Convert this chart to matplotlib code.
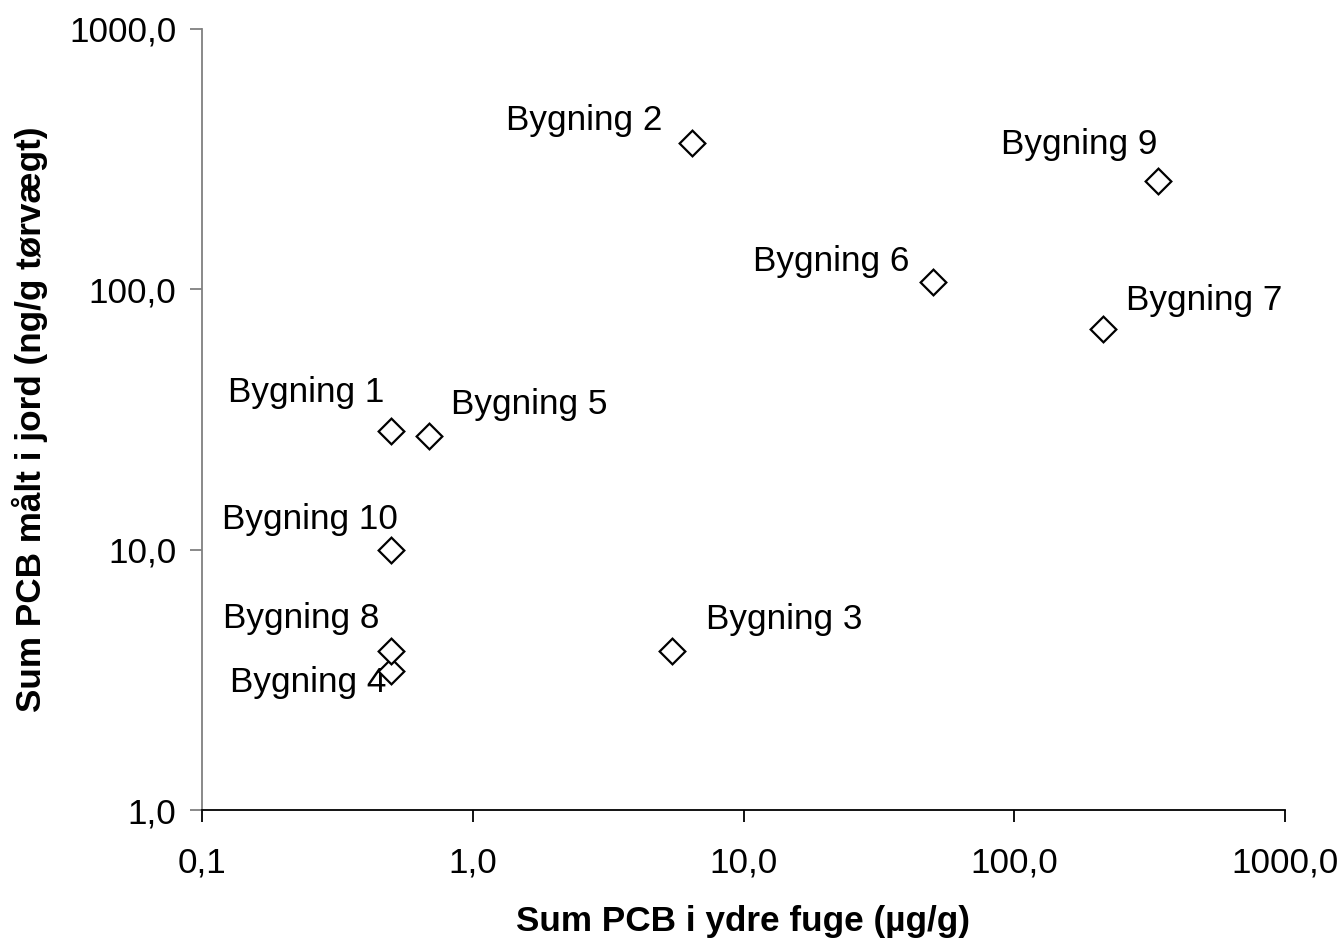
import matplotlib.pyplot as plt
from matplotlib.ticker import FixedLocator, FuncFormatter

plt.rcParams["font.family"] = ["Liberation Sans", "DejaVu Sans"]

# Bygning -> (sum PCB i ydre fuge, sum PCB i jord)
names = ["Bygning 1", "Bygning 2", "Bygning 3", "Bygning 4", "Bygning 5",
         "Bygning 6", "Bygning 7", "Bygning 8", "Bygning 9", "Bygning 10"]
fuge = [0.5, 6.45, 5.45, 0.5, 0.69, 50.0, 213.0, 0.5, 340.0, 0.5]
jord = [28.6, 365.0, 4.08, 3.42, 27.3, 107.0, 70.4, 4.08, 261.0, 10.0]

# label offsets in pixels (dx, dy) from point, ha
offsets = {
    "Bygning 1": (-7, 38, "right"),
    "Bygning 2": (-30, 22, "right"),
    "Bygning 3": (34, 32, "left"),
    "Bygning 4": (-5, -12, "right"),
    "Bygning 5": (22, 32, "left"),
    "Bygning 6": (-23, 20, "right"),
    "Bygning 7": (23, 29, "left"),
    "Bygning 8": (-12, 33, "right"),
    "Bygning 9": (-1, 36, "right"),
    "Bygning 10": (7, 30, "right"),
}

FS = 25.3

fig = plt.figure(figsize=(13.42, 9.42), dpi=100)
ax = fig.add_axes([202 / 1342, 1 - 810 / 942, (1285 - 202) / 1342, (810 - 29) / 942])

ax.plot(fuge, jord, linestyle="none", marker=(4, 0, 0), markersize=18.5,
        markerfacecolor="white", markeredgecolor="black", markeredgewidth=1.6,
        clip_on=False, zorder=3)

for n, x, y in zip(names, fuge, jord):
    dx, dy, ha = offsets[n]
    ax.annotate(n, (x, y), xytext=(dx, dy), textcoords="offset pixels",
                ha=ha, va="center", fontsize=FS, zorder=2)

ax.set_xscale("log")
ax.set_yscale("log")
ax.set_xlim(0.1, 1000)
ax.set_ylim(1, 1000)

fmt = FuncFormatter(lambda v, p: f"{v:.1f}".replace(".", ","))
ax.xaxis.set_major_locator(FixedLocator([0.1, 1, 10, 100, 1000]))
ax.yaxis.set_major_locator(FixedLocator([1, 10, 100, 1000]))
ax.xaxis.set_major_formatter(fmt)
ax.yaxis.set_major_formatter(fmt)
ax.minorticks_off()

for s in ["top", "right"]:
    ax.spines[s].set_visible(False)
ax.spines["left"].set_color("#808080")
ax.spines["bottom"].set_color("black")
ax.spines["left"].set_linewidth(1.3)
ax.spines["bottom"].set_linewidth(1.3)

ax.tick_params(axis="x", direction="out", length=8.5, width=1.3, colors="black",
               labelsize=FS, pad=18)
ax.tick_params(axis="y", direction="out", length=8.5, width=1.3, color="#808080",
               labelcolor="black", labelsize=FS, pad=10)

ax.set_xlabel("Sum PCB i ydre fuge (µg/g)", fontsize=FS, fontweight="bold", labelpad=18)
ax.set_ylabel("Sum PCB målt i jord (ng/g tørvægt)", fontsize=FS, fontweight="bold", labelpad=15)

fig.savefig("out.png", dpi=100)
